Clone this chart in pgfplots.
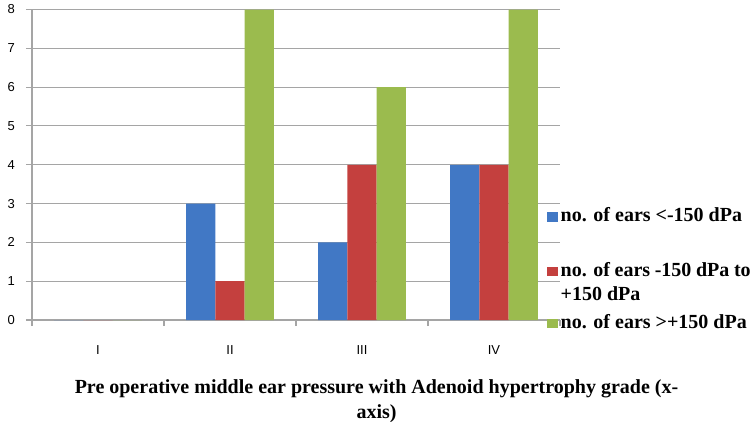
\documentclass[border=0pt]{standalone}
\usepackage{pgfplots}
\pgfplotsset{compat=1.18}
\usepackage{fontspec}
\setmainfont{Liberation Serif}
\newfontfamily\arialfont{Liberation Sans}
\definecolor{barblue}{HTML}{4178C5}
\definecolor{barred}{HTML}{C4403E}
\definecolor{bargreen}{HTML}{9BBB4E}
\definecolor{gridgray}{RGB}{165,165,165}
\begin{document}
\begin{tikzpicture}
\useasboundingbox (0,0) rectangle (753pt,-422pt);
\begin{axis}[
  at={(32pt,-320pt)}, anchor=south west,
  scale only axis, width=528pt, height=310.5pt,
  xmin=-0.5, xmax=3.5, ymin=0, ymax=8,
  axis x line*=bottom, axis y line*=left,
  axis line style={draw=gridgray, line width=1.1pt},
  ymajorgrids, grid style={draw=gridgray, line width=1.1pt},
  ytick={0,1,...,8},
  xtick={-0.5,0.5,1.5,2.5,3.5},
  xticklabels={I,II,III,IV},
  x tick label as interval,
  tick align=outside, major tick length=6pt,
  tick style={draw=gridgray, line width=1.1pt},
  /pgf/number format/assume math mode=true,
  tick label style={font=\arialfont\fontsize{13}{15}\selectfont, text=black},
  yticklabel style={anchor=east, inner sep=0pt},
  yticklabel shift=11pt,
  xticklabel style={anchor=base, inner sep=0pt},
  xticklabel shift=28.5pt,
  ybar=0pt, bar width=29.3pt,
  xlabel={Pre operative middle ear pressure with Adenoid hypertrophy grade (x-\\axis)},
  xlabel style={at={(axis description cs:0.6525,0)}, anchor=north, inner sep=0pt,
    yshift=-59.5pt, align=center, font=\bfseries\fontsize{20}{24.5}\selectfont},
  legend image code/.code={\fill[#1,draw=none] (0pt,0pt) rectangle (11pt,9.5pt);},
  legend style={draw=none, fill=none, inner sep=0pt, outer sep=0pt,
    at={(axis description cs:0.9748,0.3617)}, anchor=north west,
    row sep=0pt, column sep=3pt,
    cells={anchor=base west},
    nodes={inner sep=0pt, text depth=, text height=},
    font=\bfseries\fontsize{20}{24}\selectfont},
]
\addplot[fill=barblue, draw=none] coordinates {(0,0) (1,3) (2,2) (3,4)};
\addlegendentry{\parbox[t]{190pt}{\rule{0pt}{14pt}no. of ears <-150 dPa\rule[-40.3pt]{0pt}{1pt}}}
\addplot[fill=barred, draw=none] coordinates {(0,0) (1,1) (2,4) (3,4)};
\addlegendentry{\parbox[t]{190pt}{\rule{0pt}{14pt}no. of ears -150 dPa to\\+150 dPa\rule[-14pt]{0pt}{1pt}}}
\addplot[fill=bargreen, draw=none] coordinates {(0,0) (1,8) (2,6) (3,8)};
\addlegendentry{\parbox[t]{190pt}{\rule{0pt}{14pt}no. of ears >+150 dPa}}
\end{axis}
\end{tikzpicture}
\end{document}
